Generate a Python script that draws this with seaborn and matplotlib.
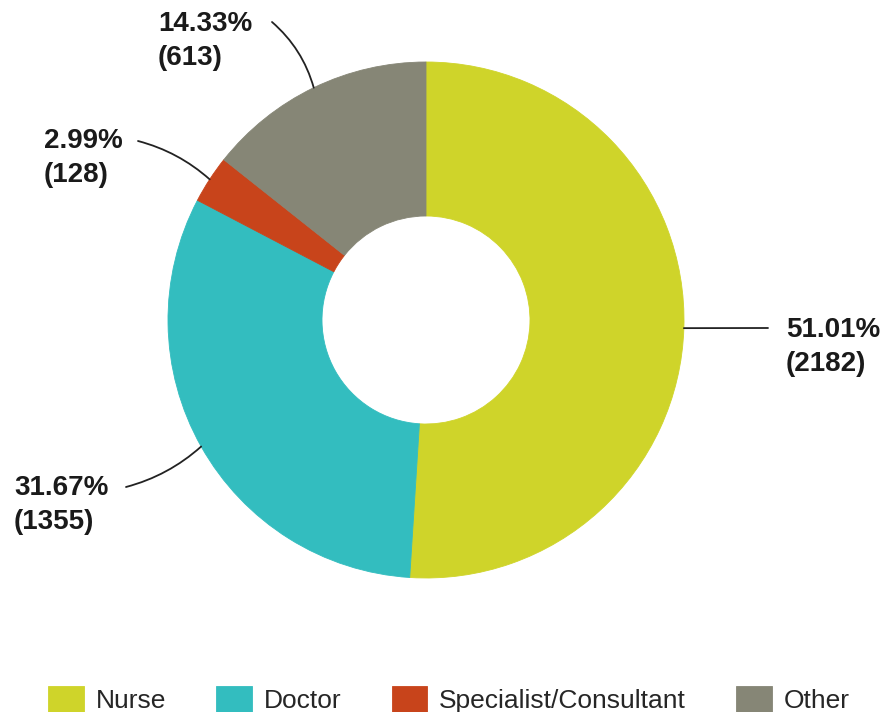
import numpy as np
import matplotlib
matplotlib.use("Agg")
import matplotlib.pyplot as plt
import seaborn as sns

# dados do gráfico
categorias = ["Nurse", "Doctor", "Specialist/Consultant", "Other"]
contagens = [2182, 1355, 128, 613]
cores = ["#CFD42A", "#33BDBF", "#C8441B", "#868676"]

sns.set_theme(style="white")
plt.rcParams['font.family'] = ['Liberation Sans', 'DejaVu Sans']

W, H = 889, 712
fig = plt.figure(figsize=(W / 100, H / 100), dpi=100)
ax = fig.add_axes([0, 0, 1, 1])

cx, cy, R = 426, H - 320, 258
wedges, _ = ax.pie(contagens, colors=cores, startangle=90, counterclock=False,
                   center=(cx, cy), radius=R, frame=True,
                   wedgeprops=dict(width=154, linewidth=0.6))
for w, c in zip(wedges, cores):
    w.set_edgecolor(c)
ax.set_xlim(0, W)
ax.set_ylim(0, H)
ax.set_aspect("equal")
ax.axis("off")

total = sum(contagens)
# posição do rótulo (fim da linha, canto do texto, curvatura)
rotulos = [
    ((768, H - 328), (786, H - 347), 0.0),
    ((126, H - 487), (14, H - 505), 0.12),
    ((138, H - 141), (44, H - 158), -0.12),
    ((272, H - 22), (158, H - 41), -0.15),
]
for w, v, (fim, txt, rad) in zip(wedges, contagens, rotulos):
    ang = np.deg2rad((w.theta1 + w.theta2) / 2)
    pt = (cx + R * np.cos(ang), cy + R * np.sin(ang))
    ax.annotate("", xy=pt, xytext=fim,
                arrowprops=dict(arrowstyle="-", color="#222222", lw=1.3,
                                shrinkA=0, shrinkB=0,
                                connectionstyle=f"arc3,rad={rad}"))
    ax.text(txt[0], txt[1], f"{v / total * 100:.2f}%\n({v})", ha="left", va="center",
            fontsize=20, fontweight="bold", color="#1a1a1a", linespacing=1.4)

fig.legend(wedges, categorias, loc="lower center", bbox_to_anchor=(0.505, -0.035), ncol=4,
           frameon=False, fontsize=19, handlelength=1.35, handleheight=1.2,
           handletextpad=0.45, columnspacing=1.9)

fig.savefig("out.png", dpi=100)
